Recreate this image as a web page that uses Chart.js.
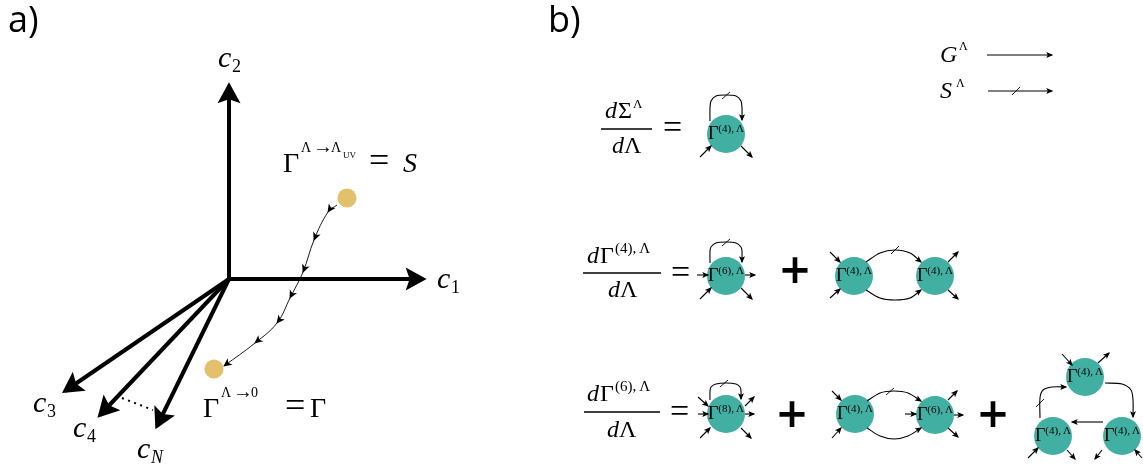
<!DOCTYPE html>
<html>
<head>
<meta charset="utf-8">
<script src="https://cdn.jsdelivr.net/npm/chart.js@4.4.1/dist/chart.umd.min.js"></script>
<style>
  html, body { margin: 0; padding: 0; background: #fff; }
  #wrap { width: 1143px; height: 468px; position: relative; }
</style>
</head>
<body>
<div id="wrap"><canvas id="diagram"></canvas></div>
<script>
// ---- panel a: coupling space ----
const origin = [229, 279];
const axisTips = [[229, 86], [423, 279], [65, 391], [100, 415], [157, 426]];
const dottedArc = [[122, 398], [153, 410]];
const flowPath = [[337, 205], [328, 212], [314, 240], [303, 272], [290, 298], [277, 323], [255, 343], [224, 366]];
const flowEnds = [[347, 198], [214, 369]];

// ---- panel b: flow equations ----
const vertices = [[726, 134], [726, 276], [854, 276], [935, 276], [726, 414], [855, 414], [935, 415], [1085, 377], [1053, 436], [1122, 436]];
const vertexOrder = ['4', '6', '4', '4', '8', '4', '6', '4', '4', '4'];
const legs = [
  [700, 157, 711, 146], [741, 146, 752, 157],
  [697, 275, 708, 275], [700, 299, 711, 288], [745, 275, 755, 275], [741, 288, 752, 299],
  [830, 252, 840, 262], [830, 298, 840, 289], [948, 262, 958, 252], [948, 290, 958, 299],
  [698, 397, 708, 406], [698, 414, 708, 414], [700, 438, 710, 428], [745, 406, 754, 397], [745, 414, 754, 414], [741, 428, 751, 438],
  [832, 391, 841, 400], [832, 438, 841, 428], [905, 414, 916, 414], [948, 400, 957, 391], [954, 415, 963, 415], [948, 428, 958, 437],
  [1062, 354, 1072, 365], [1098, 363, 1109, 353], [1028, 458, 1038, 448], [1067, 450, 1075, 459], [1102, 450, 1095, 459], [1142, 458, 1135, 450]
];
const propagators = [
  [[710, 121], [710, 108], [711, 101], [716, 96], [726, 95], [736, 96], [741, 101], [742, 108], [742, 120]],
  [[710, 263], [710, 251], [711, 247], [716, 243], [726, 242], [736, 243], [741, 247], [742, 251], [742, 262]],
  [[866, 262], [880, 253], [895, 250], [910, 253], [921, 262]],
  [[866, 290], [880, 298], [895, 300], [910, 298], [921, 290]],
  [[710, 400], [710, 391], [711, 387], [716, 384], [726, 383], [736, 384], [740, 387], [741, 391], [741, 399]],
  [[867, 401], [880, 393], [894, 391], [908, 393], [921, 401]],
  [[867, 428], [880, 436], [894, 439], [908, 436], [921, 428]],
  [[1105, 383], [1122, 384], [1131, 390], [1133, 400], [1133, 417]],
  [[1103, 422], [1072, 422]],
  [[1040, 418], [1040, 398], [1043, 390], [1052, 387], [1066, 387]],
  [[987, 55], [1052, 55]],
  [[988, 91], [1052, 91]]
];
const slashes = [[722, 99, 730, 92], [722, 246, 730, 239], [891, 254, 899, 246], [720, 387, 728, 380], [886, 395, 894, 388], [1036, 407, 1044, 399], [1012, 95, 1020, 87]];
const fractionBars = [[601, 652, 129], [583, 661, 273], [584, 660, 412]];

// text runs: [text, x, baseline, size, style]
const texts = [
  ['a)', 8, 32, 36, 's'], ['b)', 548, 32, 36, 's'],
  ['c', 218, 67, 30, 'i'], ['2', 232, 72, 18, 'r'],
  ['c', 437, 288, 30, 'i'], ['1', 451, 293, 18, 'r'],
  ['c', 33, 412, 30, 'i'], ['3', 47, 417, 18, 'r'],
  ['c', 73, 437, 30, 'i'], ['4', 87, 442, 18, 'r'],
  ['c', 137, 458, 30, 'i'], ['N', 151, 463, 18, 'i'],
  ['Γ', 283, 172, 28, 'r'], ['Λ', 301, 152, 14, 'r'], ['→', 313, 153, 20, 'r'], ['Λ', 331, 152, 14, 'r'], ['UV', 343, 158, 9, 'r'], ['=', 369, 172, 36, 'r'], ['S', 403, 172, 28, 'i'],
  ['Γ', 203, 417, 28, 'r'], ['Λ', 221, 397, 14, 'r'], ['→', 233, 398, 20, 'r'], ['0', 251, 397, 14, 'r'], ['=', 285, 417, 36, 'r'], ['Γ', 310, 417, 28, 'r'],
  ['G', 940, 62, 24, 'i'], ['Λ', 959, 50, 12, 'r'],
  ['S', 940, 98, 24, 'i'], ['Λ', 956, 87, 12, 'r'],
  ['d', 605, 118, 24, 'i'], ['Σ', 618, 118, 24, 'r'], ['Λ', 633, 108, 13, 'r'],
  ['d', 612, 153, 24, 'i'], ['Λ', 624, 153, 24, 'r'],
  ['=', 663, 138, 34, 'r'],
  ['d', 587, 263, 24, 'i'], ['Γ', 600, 263, 24, 'r'], ['(4),\u2009Λ', 615, 253, 15, 'r'],
  ['d', 608, 297, 24, 'i'], ['Λ', 620, 297, 24, 'r'],
  ['=', 671, 283, 34, 'r'],
  ['d', 587, 401, 24, 'i'], ['Γ', 600, 401, 24, 'r'], ['(6),\u2009Λ', 615, 391, 15, 'r'],
  ['d', 607, 437, 24, 'i'], ['Λ', 619, 437, 24, 'r'],
  ['=', 670, 422, 34, 'r'],
  ['+', 795, 273, 40, 'b'], ['+', 792, 417, 40, 'b'], ['+', 993, 417, 40, 'b']
];

const TEAL = '#41b0a3';
const GOLD = '#e3c06b';
const SERIF = '"Liberation Serif", "Times New Roman", "DejaVu Serif", serif';

function fontFor(size, style) {
  if (style === 'i') return 'italic ' + size + 'px ' + SERIF;
  if (style === 's') return size + 'px "Open Sans", sans-serif';
  if (style === 'b') return 'bold ' + size + 'px "DejaVu Sans", sans-serif';
  return size + 'px ' + SERIF;
}

const datasets = [];
function addLine(pts, opts) {
  datasets.push(Object.assign({
    data: pts.map(p => ({ x: p[0], y: p[1] })),
    showLine: true,
    pointRadius: 0,
    borderColor: '#000',
    backgroundColor: '#000',
    borderWidth: 1.1,
    borderCapStyle: 'butt',
    tension: 0,
    clip: false,
    order: 0
  }, opts || {}));
}

axisTips.forEach(t => addLine([origin, t], { borderWidth: 4, head: { len: 21, half: 11.5, notch: 4 } }));
addLine(dottedArc, { borderWidth: 2, borderDash: [2, 4.5] });
addLine(flowPath, { borderWidth: 0.9, tension: 0.4, head: { len: 8.5, half: 4, notch: 2.2, every: true } });
legs.forEach(l => addLine([[l[0], l[1]], [l[2], l[3]]], { head: { len: 7, half: 3, notch: 1.5 } }));
propagators.forEach(p => addLine(p, { tension: 0.3, head: { len: 7, half: 3, notch: 1.5 } }));
slashes.forEach(s => addLine([[s[0], s[1]], [s[2], s[3]]], { borderWidth: 0.9 }));
fractionBars.forEach(b => addLine([[b[0], b[2]], [b[1], b[2]]], { borderWidth: 1.6 }));

datasets.push({
  data: flowEnds.map(p => ({ x: p[0], y: p[1] })),
  pointRadius: 9.5, pointBackgroundColor: GOLD, pointBorderWidth: 0, showLine: false, clip: false, order: 5
});
datasets.push({
  data: vertices.map(p => ({ x: p[0], y: p[1] })),
  pointRadius: 19, pointBackgroundColor: TEAL, pointBorderWidth: 0, showLine: false, clip: false, order: 5
});

function drawHead(ctx, x, y, ang, h, lw) {
  const ext = (lw / 2) * h.len / h.half;
  ctx.save();
  ctx.translate(x + Math.cos(ang) * ext, y + Math.sin(ang) * ext);
  ctx.rotate(ang);
  ctx.beginPath();
  ctx.moveTo(0, 0);
  ctx.lineTo(-h.len, h.half);
  ctx.lineTo(-h.len + h.notch, 0);
  ctx.lineTo(-h.len, -h.half);
  ctx.closePath();
  ctx.fill();
  ctx.restore();
}

const arrowHeads = {
  id: 'arrowHeads',
  afterDatasetsDraw(chart) {
    const ctx = chart.ctx;
    ctx.fillStyle = '#000';
    chart.data.datasets.forEach((ds, i) => {
      if (!ds.head) return;
      const pts = chart.getDatasetMeta(i).data;
      const idx = ds.head.every ? pts.map((_, k) => k).slice(1) : [pts.length - 1];
      idx.forEach(k => {
        const p = pts[k];
        let fx = pts[k - 1].x, fy = pts[k - 1].y;
        if (p.cp1x !== undefined && (Math.abs(p.cp1x - p.x) + Math.abs(p.cp1y - p.y)) > 0.5) {
          fx = p.cp1x; fy = p.cp1y;
        }
        drawHead(ctx, p.x, p.y, Math.atan2(p.y - fy, p.x - fx), ds.head, ds.borderWidth);
      });
    });
  }
};

const labelText = {
  id: 'labelText',
  afterDraw(chart) {
    const ctx = chart.ctx;
    const sx = v => chart.scales.x.getPixelForValue(v);
    const sy = v => chart.scales.y.getPixelForValue(v);
    ctx.save();
    ctx.fillStyle = '#000';
    texts.forEach(t => {
      ctx.font = fontFor(t[3], t[4]);
      if (t[4] === 'b') {
        ctx.textAlign = 'center';
        ctx.textBaseline = 'middle';
      } else {
        ctx.textAlign = 'left';
        ctx.textBaseline = 'alphabetic';
      }
      ctx.fillText(t[0], sx(t[1]), sy(t[2]));
    });
    ctx.textAlign = 'left';
    ctx.textBaseline = 'alphabetic';
    vertices.forEach((v, i) => {
      const sup = '(' + vertexOrder[i] + '),\u2009Λ';
      ctx.font = fontFor(18, 'r');
      const w1 = ctx.measureText('Γ').width;
      ctx.font = fontFor(11, 'r');
      const w2 = ctx.measureText(sup).width;
      const x0 = sx(v[0]) - (w1 + w2) / 2;
      ctx.font = fontFor(18, 'r');
      ctx.fillText('Γ', x0, sy(v[1]) + 5);
      ctx.font = fontFor(11, 'r');
      ctx.fillText(sup, x0 + w1, sy(v[1]) - 2);
    });
    ctx.restore();
  }
};

new Chart(document.getElementById('diagram').getContext('2d'), {
  type: 'scatter',
  data: { datasets: datasets },
  options: {
    responsive: true,
    maintainAspectRatio: false,
    animation: false,
    events: [],
    layout: { padding: 0, autoPadding: false },
    plugins: { legend: { display: false }, tooltip: { enabled: false } },
    scales: {
      x: { type: 'linear', min: 0, max: 1143, display: false },
      y: { type: 'linear', min: 0, max: 468, reverse: true, display: false }
    }
  },
  plugins: [arrowHeads, labelText]
});
</script>
</body>
</html>
